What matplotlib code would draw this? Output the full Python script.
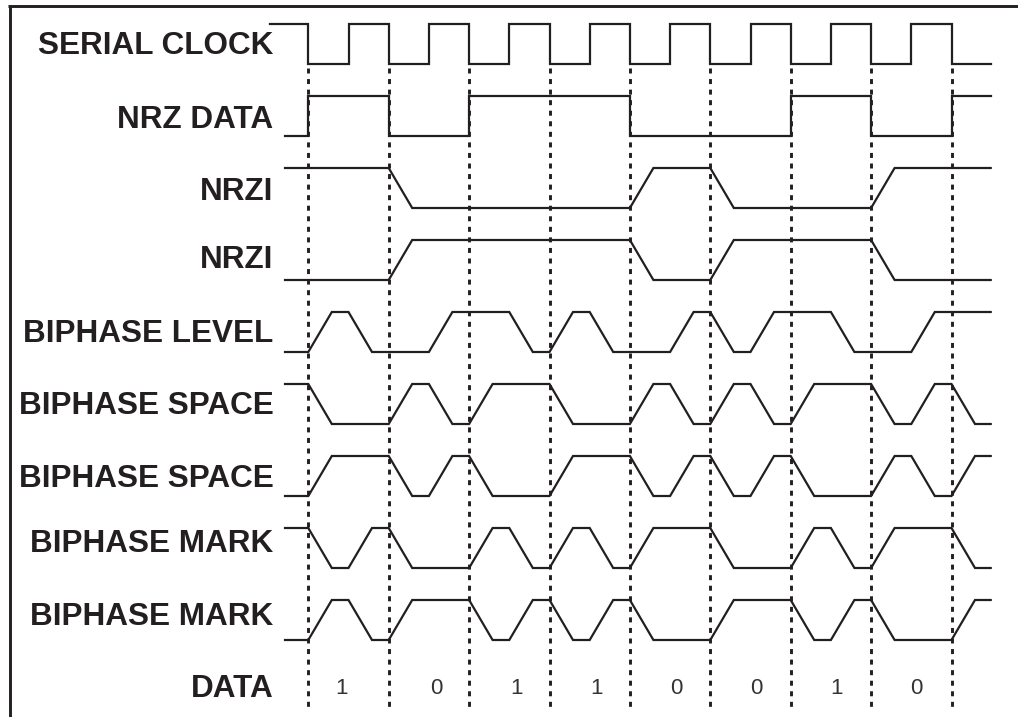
import matplotlib
matplotlib.use("Agg")
import matplotlib.pyplot as plt
from matplotlib.lines import Line2D

plt.rcParams['font.family'] = ['Liberation Sans', 'DejaVu Sans']
plt.rcParams['lines.scale_dashes'] = False

# ---------------- data ----------------
signal_names = ["SERIAL CLOCK", "NRZ DATA", "NRZI", "NRZI", "BIPHASE LEVEL",
                "BIPHASE SPACE", "BIPHASE SPACE", "BIPHASE MARK", "BIPHASE MARK"]
data_bits = [1, 0, 1, 1, 0, 0, 1, 0]
data_title = "DATA"

# levels: lead-in level, 16 half-bit levels, lead-out level
serial_clock_lead, serial_clock_tail = 1, 0
serial_clock = [0, 1, 0, 1, 0, 1, 0, 1, 0, 1, 0, 1, 0, 1, 0, 1]
nrz_lead, nrz_tail = 0, 1
nrz = [1, 1, 0, 0, 1, 1, 1, 1, 0, 0, 0, 0, 1, 1, 0, 0]
nrzi_lead, nrzi_tail = 1, 1
nrzi = [1, 1, 0, 0, 0, 0, 0, 0, 1, 1, 0, 0, 0, 0, 1, 1]
nrzi_b_lead, nrzi_b_tail = 0, 0
nrzi_b = [0, 0, 1, 1, 1, 1, 1, 1, 0, 0, 1, 1, 1, 1, 0, 0]
bl_lead, bl_tail = 0, 1
biphase_level = [1, 0, 0, 1, 1, 0, 1, 0, 0, 1, 0, 1, 1, 0, 0, 1]
bs_lead, bs_tail = 1, 0
biphase_space = [0, 0, 1, 0, 1, 1, 0, 0, 1, 0, 1, 0, 1, 1, 0, 1]
bs_b_lead, bs_b_tail = 0, 1
biphase_space_b = [1, 1, 0, 1, 0, 0, 1, 1, 0, 1, 0, 1, 0, 0, 1, 0]
bm_lead, bm_tail = 1, 0
biphase_mark = [0, 1, 0, 0, 1, 0, 1, 0, 1, 1, 0, 0, 1, 0, 1, 1]
bm_b_lead, bm_b_tail = 0, 1
biphase_mark_b = [1, 0, 1, 1, 0, 1, 0, 1, 0, 0, 1, 1, 0, 1, 0, 0]

signals = [
    (serial_clock_lead, serial_clock, serial_clock_tail, "square"),
    (nrz_lead, nrz, nrz_tail, "square"),
    (nrzi_lead, nrzi, nrzi_tail, "ramp"),
    (nrzi_b_lead, nrzi_b, nrzi_b_tail, "ramp"),
    (bl_lead, biphase_level, bl_tail, "ramp"),
    (bs_lead, biphase_space, bs_tail, "ramp"),
    (bs_b_lead, biphase_space_b, bs_b_tail, "ramp"),
    (bm_lead, biphase_mark, bm_tail, "ramp"),
    (bm_b_lead, biphase_mark_b, bm_b_tail, "ramp"),
]

# ---------------- layout ----------------
W, H = 1018, 717
PX0, BIT_PX = 308.3, 80.4        # first bit boundary, bit width (pixels)
ROW0, ROW_PX = 44.0, 72.0        # first row centre, row pitch (pixels)
HALF_AMP = 20.0 / ROW_PX
RAMP = 23.5 / BIT_PX
INK = '#231f20'

def bx(px):
    return (px - PX0) / BIT_PX

def ry(py):
    return (py - ROW0) / ROW_PX

label_baseline_px = [54.0, 127.5, 200.0, 268.5, 341.5, 414.0, 486.5, 551.5, 625.0]
data_title_baseline_px = 696.5
digit_x_px = [341.7, 436.7, 517.0, 596.7, 676.7, 756.7, 837.0, 916.7]
digit_baseline_px = 693.5

fig = plt.figure(figsize=(W / 100, H / 100), dpi=100)
ax = fig.add_axes([0, 0, 1, 1])
ax.set_xlim(bx(0), bx(W))
ax.set_ylim(ry(H), ry(0))
ax.axis('off')

# frame (top and left edges visible)
fig.add_artist(Line2D([8 / W, 1.0], [1 - 6 / H, 1 - 6 / H], color=INK, lw=2.1,
                      transform=fig.transFigure, solid_capstyle='butt'))
fig.add_artist(Line2D([9.5 / W, 9.5 / W], [1 - 5 / H, 0], color=INK, lw=2.1,
                      transform=fig.transFigure, solid_capstyle='butt'))

# dashed bit boundaries
n_bits = len(data_bits)
for k in range(n_bits + 1):
    ax.plot([k, k], [ry(68), ry(709)], color=INK, lw=2.1,
            linestyle=(0, (3.6, 4.0)), solid_capstyle='butt', dash_capstyle='butt',
            zorder=1)

def trace(lead, halves, tail, kind, row, t_start, t_end):
    levels = [lead] + list(halves) + [tail]
    def yv(l):
        return row - HALF_AMP if l == 1 else row + HALF_AMP
    xs, ys = [t_start], [yv(levels[0])]
    for k in range(len(levels) - 1):
        if levels[k + 1] != levels[k]:
            e = k * 0.5
            w = 0.0 if kind == "square" else RAMP
            xs += [e, e + w]
            ys += [yv(levels[k]), yv(levels[k + 1])]
    xs.append(t_end)
    ys.append(yv(levels[-1]))
    return xs, ys

for i, (lead, halves, tail, kind) in enumerate(signals):
    t_start = bx(270) if i == 0 else bx(285)
    xs, ys = trace(lead, halves, tail, kind, i, t_start, bx(990.7))
    ax.plot(xs, ys, color=INK, lw=1.6, solid_joinstyle='miter', zorder=2)

# labels
for name, by in zip(signal_names, label_baseline_px):
    ax.text(bx(273.5), ry(by), name, ha='right', va='baseline', fontsize=22.7,
            fontweight='bold', color=INK)
ax.text(bx(273.5), ry(data_title_baseline_px), data_title, ha='right', va='baseline',
        fontsize=22.7, fontweight='bold', color=INK)

for b, xp in zip(data_bits, digit_x_px):
    ax.text(bx(xp), ry(digit_baseline_px), str(b), ha='center', va='baseline',
            fontsize=16, color='#333333')

fig.savefig("out.png", dpi=100)
